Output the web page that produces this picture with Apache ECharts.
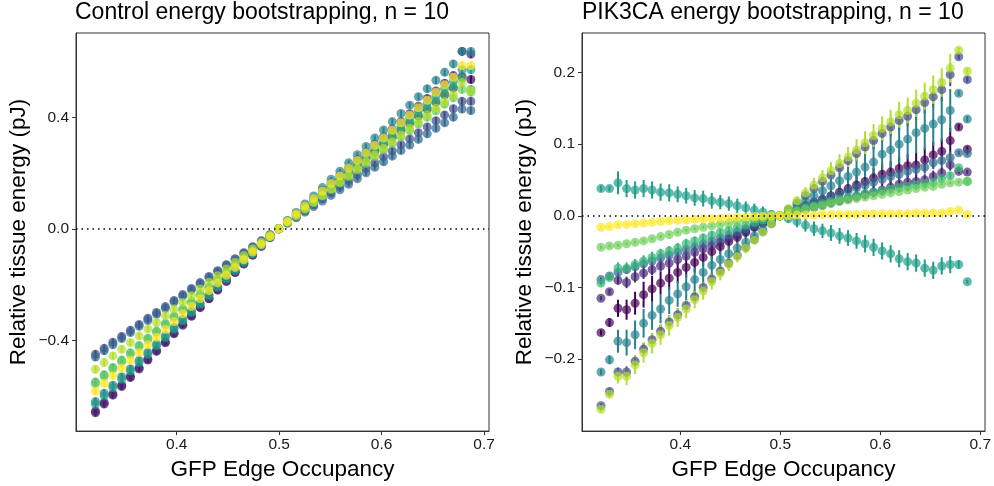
<!DOCTYPE html>
<html>
<head>
<meta charset="utf-8">
<title>Energy bootstrapping</title>
<script src="https://cdn.jsdelivr.net/npm/echarts@6/dist/echarts.min.js"></script>
<style>
  html, body { margin: 0; padding: 0; background: #fff; }
  #chart { width: 994px; height: 486px; }
</style>
</head>
<body>
<div id="chart"></div>
<script>
// GFP edge occupancy (shared by both panels)
const occupancy = [0.3207, 0.3292, 0.3377, 0.3463, 0.3548, 0.3633, 0.3718, 0.3803, 0.3889, 0.3974, 0.4059,
  0.4144, 0.4229, 0.4315, 0.4400, 0.4485, 0.4570, 0.4655, 0.4741, 0.4826, 0.4911, 0.4996, 0.5081, 0.5167,
  0.5252, 0.5337, 0.5422, 0.5507, 0.5593, 0.5678, 0.5763, 0.5848, 0.5933, 0.6019, 0.6104, 0.6189, 0.6274,
  0.6359, 0.6445, 0.6530, 0.6615, 0.6700, 0.6785, 0.6871]

// control panel, one array per bootstrap sample
const ctrl0 = [-0.655,-0.624,-0.593,-0.562,-0.530,-0.499,-0.468,-0.437,-0.406,-0.374,-0.343,-0.312,-0.281,-0.250,-0.218,-0.187,-0.156,-0.125,-0.094,-0.062,-0.031,0,
  0.025,0.051,0.076,0.101,0.127,0.152,0.177,0.202,0.228,0.253,0.278,0.304,0.329,0.354,0.380,0.405,0.430,0.455,0.481,0.506,0.546,0.536]
const ctrl1 = [-0.660,-0.629,-0.597,-0.566,-0.534,-0.503,-0.471,-0.440,-0.409,-0.377,-0.346,-0.314,-0.283,-0.251,-0.220,-0.189,-0.157,-0.126,-0.094,-0.063,-0.031,0,
  0.028,0.055,0.083,0.110,0.138,0.165,0.193,0.220,0.248,0.275,0.303,0.330,0.358,0.385,0.413,0.440,0.468,0.495,0.523,0.550,0.637,0.627]
const ctrl2 = [-0.450,-0.429,-0.407,-0.386,-0.364,-0.343,-0.321,-0.300,-0.279,-0.257,-0.236,-0.214,-0.193,-0.171,-0.150,-0.129,-0.107,-0.086,-0.064,-0.043,-0.021,0,
  0.022,0.043,0.065,0.086,0.108,0.129,0.151,0.172,0.194,0.216,0.237,0.259,0.280,0.302,0.323,0.345,0.366,0.388,0.409,0.431,0.458,0.458]
const ctrl3 = [-0.460,-0.438,-0.416,-0.394,-0.372,-0.350,-0.329,-0.307,-0.285,-0.263,-0.241,-0.219,-0.197,-0.175,-0.153,-0.131,-0.110,-0.088,-0.066,-0.044,-0.022,0,
  0.020,0.040,0.060,0.080,0.100,0.120,0.140,0.160,0.180,0.201,0.221,0.241,0.261,0.281,0.301,0.321,0.341,0.361,0.381,0.401,0.430,0.425]
const ctrl4 = [-0.620,-0.590,-0.561,-0.531,-0.502,-0.472,-0.443,-0.413,-0.384,-0.354,-0.325,-0.295,-0.266,-0.236,-0.207,-0.177,-0.148,-0.118,-0.089,-0.059,-0.030,0,
  0.030,0.059,0.089,0.118,0.148,0.178,0.207,0.237,0.266,0.296,0.326,0.355,0.385,0.414,0.444,0.474,0.503,0.533,0.562,0.592,0.637,0.637]
const ctrl5 = [-0.630,-0.600,-0.570,-0.540,-0.510,-0.480,-0.450,-0.420,-0.390,-0.360,-0.330,-0.300,-0.270,-0.240,-0.210,-0.180,-0.150,-0.120,-0.090,-0.060,-0.030,0,
  0.027,0.053,0.080,0.106,0.133,0.159,0.186,0.212,0.239,0.265,0.292,0.318,0.345,0.371,0.398,0.424,0.451,0.477,0.504,0.530,0.571,0.571]
const ctrl6 = [-0.550,-0.524,-0.498,-0.471,-0.445,-0.419,-0.393,-0.367,-0.340,-0.314,-0.288,-0.262,-0.236,-0.210,-0.183,-0.157,-0.131,-0.105,-0.079,-0.052,-0.026,0,
  0.026,0.051,0.077,0.102,0.128,0.153,0.179,0.204,0.230,0.255,0.281,0.306,0.332,0.357,0.383,0.408,0.434,0.459,0.485,0.510,0.540,0.500]
const ctrl7 = [-0.556,-0.530,-0.503,-0.477,-0.450,-0.424,-0.397,-0.371,-0.344,-0.318,-0.291,-0.265,-0.238,-0.212,-0.185,-0.159,-0.132,-0.106,-0.079,-0.053,-0.026,0,
  0.024,0.047,0.071,0.094,0.118,0.141,0.165,0.188,0.212,0.235,0.259,0.282,0.306,0.329,0.353,0.376,0.400,0.423,0.447,0.470,0.500,0.490]
const ctrl8 = [-0.504,-0.480,-0.456,-0.432,-0.408,-0.384,-0.360,-0.336,-0.312,-0.288,-0.264,-0.240,-0.216,-0.192,-0.168,-0.144,-0.120,-0.096,-0.072,-0.048,-0.024,0,
  0.024,0.048,0.072,0.096,0.120,0.144,0.168,0.192,0.216,0.241,0.265,0.289,0.313,0.337,0.361,0.385,0.409,0.433,0.457,0.481,0.525,0.496]
const ctrl9 = [-0.583,-0.555,-0.527,-0.500,-0.472,-0.444,-0.416,-0.389,-0.361,-0.333,-0.305,-0.278,-0.250,-0.222,-0.194,-0.167,-0.139,-0.111,-0.083,-0.056,-0.028,0,
  0.027,0.054,0.082,0.109,0.136,0.163,0.190,0.218,0.245,0.272,0.299,0.326,0.354,0.381,0.408,0.435,0.462,0.490,0.517,0.544,0.586,0.586]
// control error bars are tiny, roughly the same for every sample
const ctrlErr = [0.014,0.014,0.013,0.013,0.013,0.012,0.012,0.012,0.011,0.011,0.010,0.010,0.009,0.009,0.008,0.007,0.006,0.005,0.004,0.003,0.002,0,
  0.002,0.003,0.004,0.005,0.006,0.007,0.008,0.009,0.009,0.010,0.010,0.011,0.011,0.012,0.012,0.012,0.013,0.013,0.013,0.014,0.014,0.014]

// PIK3CA panel
const pik0 = [-0.163,-0.149,-0.129,-0.131,-0.122,-0.110,-0.102,-0.094,-0.087,-0.079,-0.072,-0.065,-0.058,-0.050,-0.043,-0.036,-0.030,-0.023,-0.016,-0.010,-0.005,0,
  0.004,0.009,0.014,0.019,0.023,0.028,0.033,0.038,0.043,0.048,0.053,0.058,0.061,0.066,0.070,0.071,0.078,0.085,0.090,0.105,0.124,0.093]
const pik1 = [-0.115,-0.106,-0.090,-0.093,-0.085,-0.080,-0.075,-0.070,-0.066,-0.061,-0.056,-0.051,-0.046,-0.042,-0.037,-0.032,-0.027,-0.021,-0.015,-0.010,-0.005,0,
  0.003,0.006,0.009,0.012,0.015,0.018,0.021,0.024,0.027,0.030,0.033,0.036,0.040,0.044,0.047,0.048,0.050,0.055,0.060,0.071,0.062,0.061]
const pik2 = [-0.265,-0.245,-0.218,-0.218,-0.203,-0.186,-0.173,-0.161,-0.148,-0.138,-0.125,-0.113,-0.100,-0.088,-0.077,-0.066,-0.055,-0.044,-0.033,-0.022,-0.011,0,
  0.009,0.018,0.028,0.038,0.048,0.057,0.067,0.077,0.087,0.096,0.105,0.115,0.124,0.133,0.139,0.148,0.158,0.166,0.176,0.197,0.222,0.190]
const pik3 = [-0.089,-0.084,-0.079,-0.075,-0.071,-0.067,-0.063,-0.059,-0.055,-0.051,-0.047,-0.043,-0.039,-0.035,-0.031,-0.027,-0.022,-0.018,-0.013,-0.009,-0.004,0,
  0.005,0.010,0.014,0.019,0.023,0.027,0.031,0.035,0.039,0.043,0.047,0.051,0.055,0.058,0.062,0.065,0.068,0.074,0.077,0.081,0.088,0.087]
const pik4 = [-0.218,-0.201,-0.175,-0.177,-0.166,-0.150,-0.139,-0.130,-0.118,-0.109,-0.099,-0.089,-0.079,-0.069,-0.061,-0.053,-0.045,-0.037,-0.028,-0.019,-0.010,0,
  0.007,0.014,0.021,0.028,0.035,0.042,0.049,0.055,0.061,0.068,0.075,0.086,0.092,0.100,0.107,0.116,0.122,0.128,0.134,0.147,0.171,0.135]
const pik5 = [0.038,0.038,0.046,0.038,0.036,0.038,0.036,0.033,0.032,0.030,0.028,0.025,0.024,0.021,0.019,0.017,0.014,0.011,0.008,0.005,0.002,0,
  -0.004,-0.008,-0.013,-0.018,-0.021,-0.024,-0.028,-0.031,-0.035,-0.039,-0.044,-0.049,-0.053,-0.060,-0.064,-0.066,-0.073,-0.076,-0.070,-0.068,-0.068,-0.092]
const pik6 = [-0.094,-0.086,-0.073,-0.073,-0.068,-0.063,-0.058,-0.053,-0.049,-0.045,-0.039,-0.035,-0.031,-0.027,-0.023,-0.020,-0.016,-0.013,-0.009,-0.006,-0.003,0,
  0.004,0.008,0.011,0.014,0.017,0.020,0.023,0.026,0.028,0.031,0.033,0.035,0.037,0.039,0.041,0.043,0.045,0.047,0.052,0.056,0.067,0.048]
const pik7 = [-0.044,-0.042,-0.041,-0.039,-0.037,-0.035,-0.032,-0.029,-0.026,-0.023,-0.020,-0.018,-0.016,-0.014,-0.012,-0.010,-0.008,-0.006,-0.004,-0.003,-0.001,0,
  0.003,0.006,0.009,0.012,0.014,0.017,0.020,0.022,0.024,0.026,0.028,0.030,0.032,0.034,0.036,0.038,0.040,0.041,0.044,0.046,0.047,0.048]
const pik8 = [-0.270,-0.249,-0.224,-0.224,-0.208,-0.191,-0.178,-0.166,-0.153,-0.142,-0.130,-0.117,-0.105,-0.092,-0.080,-0.068,-0.057,-0.045,-0.034,-0.023,-0.011,0,
  0.010,0.021,0.032,0.043,0.053,0.063,0.073,0.082,0.092,0.102,0.112,0.122,0.131,0.141,0.147,0.157,0.167,0.176,0.186,0.206,0.231,0.202]
const pik9 = [-0.016,-0.015,-0.0125,-0.012,-0.011,-0.010,-0.009,-0.008,-0.007,-0.0065,-0.006,-0.005,-0.0045,-0.004,-0.0035,-0.003,-0.002,-0.0015,-0.001,-0.0005,0,0,
  0.000,0.001,0.001,0.001,0.002,0.002,0.002,0.002,0.002,0.003,0.003,0.003,0.003,0.003,0.003,0.004,0.004,0.004,0.004,0.006,0.008,0.002]

// PIK3CA error bar half widths
const pikErr0 = [0.004,0.006,0.012,0.014,0.016,0.018,0.018,0.016,0.016,0.015,0.014,0.014,0.012,0.012,0.010,0.010,0.008,0.008,0.006,0.005,0.003,0,
  0.003,0.005,0.006,0.007,0.008,0.009,0.010,0.011,0.012,0.013,0.014,0.015,0.015,0.016,0.016,0.017,0.017,0.018,0.018,0.018,0.004,0.004]
const pikErr1 = [0.003,0.004,0.006,0.008,0.008,0.008,0.008,0.008,0.008,0.008,0.007,0.007,0.007,0.006,0.006,0.005,0.005,0.004,0.004,0.003,0.002,0,
  0.002,0.003,0.004,0.004,0.005,0.005,0.006,0.006,0.006,0.007,0.007,0.007,0.008,0.008,0.008,0.008,0.008,0.008,0.008,0.008,0.003,0.003]
const pikErr2 = [0.003,0.004,0.006,0.008,0.008,0.009,0.009,0.009,0.009,0.009,0.009,0.009,0.008,0.008,0.007,0.007,0.006,0.005,0.004,0.003,0.002,0,
  0.003,0.004,0.005,0.006,0.007,0.008,0.009,0.010,0.010,0.011,0.012,0.012,0.013,0.013,0.014,0.014,0.015,0.015,0.016,0.016,0.004,0.004]
const pikErr3 = [0.003,0.004,0.005,0.005,0.006,0.006,0.006,0.006,0.006,0.006,0.006,0.005,0.005,0.005,0.005,0.004,0.004,0.004,0.003,0.003,0.002,0,
  0.002,0.003,0.004,0.004,0.005,0.005,0.006,0.006,0.006,0.007,0.007,0.007,0.008,0.008,0.008,0.008,0.009,0.009,0.009,0.009,0.003,0.003]
const pikErr4 = [0.004,0.006,0.016,0.018,0.020,0.020,0.020,0.020,0.019,0.018,0.018,0.017,0.016,0.015,0.014,0.013,0.012,0.010,0.008,0.006,0.004,0,
  0.004,0.006,0.009,0.011,0.013,0.015,0.017,0.019,0.021,0.022,0.024,0.025,0.026,0.027,0.028,0.029,0.030,0.030,0.030,0.030,0.004,0.004]
const pikErr5 = [0.004,0.004,0.016,0.012,0.012,0.012,0.012,0.012,0.012,0.011,0.011,0.011,0.011,0.011,0.010,0.010,0.010,0.009,0.009,0.008,0.006,0,
  0.006,0.008,0.009,0.010,0.010,0.011,0.011,0.011,0.011,0.012,0.012,0.012,0.012,0.012,0.012,0.012,0.012,0.012,0.012,0.012,0.006,0.003]
const pikErr6 = [0.003,0.004,0.008,0.008,0.008,0.008,0.008,0.007,0.007,0.007,0.007,0.006,0.006,0.006,0.005,0.005,0.004,0.004,0.003,0.003,0.002,0,
  0.002,0.002,0.003,0.003,0.003,0.004,0.004,0.004,0.004,0.004,0.005,0.005,0.005,0.005,0.005,0.005,0.005,0.005,0.005,0.005,0.003,0.003]
const pikErr7 = [0.002,0.002,0.002,0.002,0.002,0.002,0.002,0.002,0.002,0.002,0.002,0.002,0.002,0.002,0.002,0.002,0.002,0.002,0.002,0.002,0.002,0,
  0.002,0.002,0.002,0.002,0.002,0.002,0.002,0.002,0.002,0.002,0.002,0.002,0.002,0.002,0.002,0.002,0.002,0.002,0.002,0.002,0.002,0.002]
const pikErr8 = [0.004,0.005,0.010,0.012,0.013,0.014,0.014,0.014,0.014,0.013,0.013,0.012,0.012,0.011,0.010,0.009,0.008,0.007,0.006,0.004,0.003,0,
  0.004,0.006,0.008,0.010,0.011,0.012,0.013,0.014,0.015,0.016,0.016,0.017,0.017,0.018,0.018,0.019,0.019,0.020,0.020,0.020,0.004,0.004]
const pikErr9 = [0.002,0.002,0.002,0.002,0.002,0.002,0.002,0.002,0.002,0.002,0.002,0.002,0.002,0.002,0.002,0.002,0.002,0.002,0.002,0.002,0.002,0,
  0.002,0.002,0.002,0.002,0.002,0.002,0.002,0.002,0.002,0.002,0.002,0.002,0.002,0.002,0.002,0.002,0.002,0.002,0.002,0.002,0.002,0.002]

const xTicks = [0.4, 0.5, 0.6, 0.7]
const ctrlTicks = [-0.4, 0, 0.4]
const pikTicks = [-0.2, -0.1, 0, 0.1, 0.2]

// viridis, 10 steps
const colors = ['#440154', '#482878', '#3E4A89', '#31688E', '#26828E', '#1F9E89', '#35B779', '#6DCD59', '#B4DE2C', '#FDE725']

const ctrlAll = [ctrl0, ctrl1, ctrl2, ctrl3, ctrl4, ctrl5, ctrl6, ctrl7, ctrl8, ctrl9]
const pikAll = [pik0, pik1, pik2, pik3, pik4, pik5, pik6, pik7, pik8, pik9]
const pikErrAll = [pikErr0, pikErr1, pikErr2, pikErr3, pikErr4, pikErr5, pikErr6, pikErr7, pikErr8, pikErr9]

const font = '"Liberation Sans", Arial, Helvetica, sans-serif'
const fmt = v => (v < 0 ? '\u2212' : '') + Math.abs(v).toFixed(1)

function errorBar(params, api) {
  const hi = api.coord([api.value(0), api.value(2)])
  const lo = api.coord([api.value(0), api.value(1)])
  return {
    type: 'line',
    shape: { x1: hi[0], y1: hi[1], x2: lo[0], y2: lo[1] },
    style: { stroke: api.visual('color'), lineWidth: 2 }
  }
}

function xAxisFor(i) {
  return {
    gridIndex: i,
    type: 'value',
    min: 0.3017,
    max: 0.7048,
    name: 'GFP Edge Occupancy',
    nameLocation: 'middle',
    nameGap: 22,
    nameTextStyle: { fontSize: 22.5, color: '#000', fontFamily: font },
    axisLine: { show: true, onZero: false, lineStyle: { color: '#333', width: 1 } },
    axisTick: { show: true, length: 4, customValues: xTicks, lineStyle: { color: '#333' } },
    axisLabel: { customValues: xTicks, formatter: fmt, fontSize: 15.5, color: '#1a1a1a', margin: 6, fontFamily: font },
    splitLine: { show: false }
  }
}

function yAxisFor(i, min, max, ticks) {
  return {
    gridIndex: i,
    type: 'value',
    min: min,
    max: max,
    name: 'Relative tissue energy (pJ)',
    nameLocation: 'middle',
    nameGap: 46,
    nameTextStyle: { fontSize: 22.5, color: '#000', fontFamily: font },
    axisLine: { show: true, onZero: false, lineStyle: { color: '#333', width: 1 } },
    axisTick: { show: true, length: 4, customValues: ticks, lineStyle: { color: '#333' } },
    axisLabel: { customValues: ticks, formatter: fmt, fontSize: 15.5, color: '#1a1a1a', margin: 7, fontFamily: font },
    splitLine: { show: false }
  }
}

function zeroLine(i) {
  return {
    type: 'line',
    xAxisIndex: i,
    yAxisIndex: i,
    data: [],
    z: 1,
    markLine: {
      silent: true,
      symbol: ['none', 'none'],
      label: { show: false },
      lineStyle: { color: '#000', type: [1.5, 4], width: 1.5 },
      data: [{ yAxis: 0 }]
    }
  }
}

const series = [zeroLine(0), zeroLine(1)]

// error bars first, so the translucent points sit on top of them
ctrlAll.forEach((vals, k) => {
  series.push({
    type: 'custom',
    xAxisIndex: 0,
    yAxisIndex: 0,
    z: 2,
    renderItem: errorBar,
    itemStyle: { color: colors[k] },
    encode: { x: 0, y: [1, 2] },
    data: occupancy.map((x, i) => [x, vals[i] - ctrlErr[i], vals[i] + ctrlErr[i]])
  })
})

pikAll.forEach((vals, k) => {
  const err = pikErrAll[k]
  series.push({
    type: 'custom',
    xAxisIndex: 1,
    yAxisIndex: 1,
    z: 2,
    renderItem: errorBar,
    itemStyle: { color: colors[k] },
    encode: { x: 0, y: [1, 2] },
    data: occupancy.map((x, i) => [x, vals[i] - err[i], vals[i] + err[i]])
  })
})

const panels = [ctrlAll, pikAll]
panels.forEach((all, p) => {
  all.forEach((vals, k) => {
    series.push({
      type: 'scatter',
      xAxisIndex: p,
      yAxisIndex: p,
      symbolSize: 9,
      z: 3,
      itemStyle: { color: colors[k], opacity: 0.7 },
      data: occupancy.map((x, i) => [x, vals[i]])
    })
  })
})

const chart = echarts.init(document.getElementById('chart'))
chart.setOption({
  animation: false,
  backgroundColor: '#fff',
  title: [
    { text: 'Control energy bootstrapping, n = 10', left: 75, top: 1, padding: 0,
      textStyle: { fontSize: 23, fontWeight: 'normal', color: '#000', fontFamily: font } },
    { text: 'PIK3CA energy bootstrapping, n = 10', left: 582, top: 1, padding: 0,
      textStyle: { fontSize: 23, fontWeight: 'normal', color: '#000', fontFamily: font } }
  ],
  grid: [
    { left: 76, top: 33, width: 413, height: 400, show: true, borderColor: '#333', borderWidth: 1 },
    { left: 582, top: 33, width: 414, height: 400, show: true, borderColor: '#333', borderWidth: 1 }
  ],
  xAxis: [xAxisFor(0), xAxisFor(1)],
  yAxis: [yAxisFor(0, -0.726, 0.703, ctrlTicks), yAxisFor(1, -0.3004, 0.2551, pikTicks)],
  series: series
})
</script>
</body>
</html>
